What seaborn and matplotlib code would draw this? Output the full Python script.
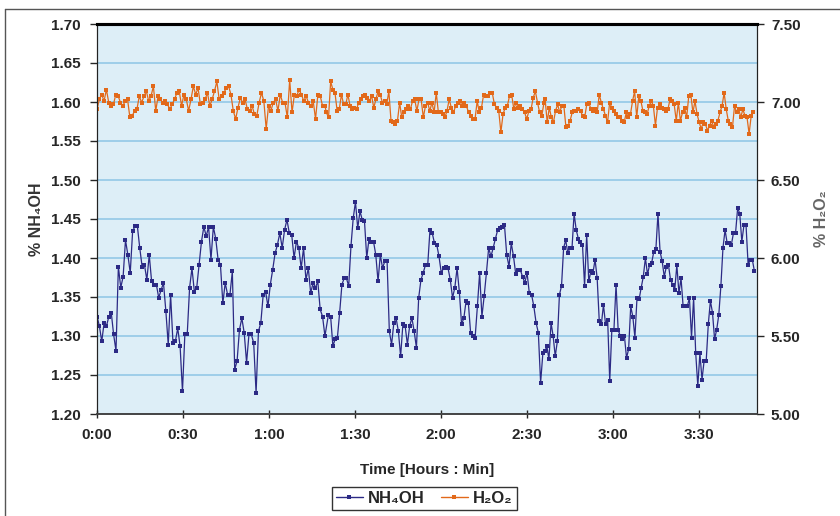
import numpy as np
import pandas as pd
import seaborn as sns
import matplotlib.pyplot as plt
from matplotlib.lines import Line2D

# % NH4OH (left axis), in three stretches of the run
nh4oh_a = [
    1.325, 1.313, 1.293, 1.317, 1.313, 1.325, 1.330, 1.302, 1.281, 1.389, 1.362, 1.376, 1.423, 1.404, 1.381,
    1.434, 1.441, 1.441, 1.413, 1.389, 1.391, 1.372, 1.404, 1.370, 1.366, 1.366, 1.349, 1.359, 1.368, 1.332,
    1.289, 1.353, 1.291, 1.293, 1.310, 1.287, 1.229, 1.302, 1.302, 1.362, 1.387, 1.357, 1.362, 1.391, 1.421,
    1.440, 1.428, 1.440, 1.398, 1.440, 1.425, 1.398, 1.391, 1.342, 1.368, 1.353, 1.353, 1.383, 1.257, 1.268,
    1.308, 1.323, 1.304, 1.266, 1.302, 1.302, 1.291, 1.227, 1.306, 1.317, 1.353, 1.357, 1.338, 1.366, 1.385,
    1.406, 1.417, 1.432, 1.413, 1.436, 1.449, 1.432, 1.430, 1.400, 1.421, 1.413, 1.387, 1.413, 1.372, 1.387,
    1.355, 1.368, 1.362, 1.370, 1.334, 1.325, 1.300,
]
nh4oh_b = [
    1.327, 1.325, 1.287, 1.296, 1.298, 1.330, 1.366, 1.374, 1.374, 1.364, 1.415, 1.451, 1.472, 1.438, 1.460,
    1.449, 1.447, 1.400, 1.425, 1.421, 1.421, 1.404, 1.370, 1.404, 1.387, 1.396, 1.396, 1.306, 1.289, 1.317,
    1.323, 1.306, 1.274, 1.315, 1.313, 1.289, 1.313, 1.323, 1.306, 1.285, 1.349, 1.372, 1.381, 1.391, 1.391,
    1.436, 1.432, 1.419, 1.417, 1.402, 1.381, 1.387, 1.389, 1.387, 1.372, 1.349, 1.362, 1.387, 1.357, 1.315,
    1.323, 1.345, 1.342, 1.304, 1.300, 1.298, 1.338, 1.381, 1.325, 1.351, 1.381, 1.413, 1.402, 1.413, 1.425,
    1.436, 1.438, 1.440, 1.442, 1.404, 1.389, 1.419, 1.402, 1.379, 1.385, 1.385, 1.376, 1.368, 1.381, 1.355,
    1.353, 1.338, 1.317, 1.304, 1.240, 1.278, 1.281,
]
nh4oh_c = [
    1.287, 1.270, 1.317, 1.300, 1.274, 1.293, 1.353, 1.364, 1.413, 1.423, 1.406, 1.413, 1.413, 1.457, 1.436,
    1.425, 1.421, 1.417, 1.364, 1.430, 1.370, 1.383, 1.381, 1.398, 1.374, 1.319, 1.315, 1.340, 1.315, 1.321,
    1.242, 1.308, 1.308, 1.366, 1.308, 1.300, 1.296, 1.300, 1.272, 1.283, 1.338, 1.325, 1.298, 1.349, 1.347,
    1.362, 1.376, 1.400, 1.379, 1.391, 1.394, 1.408, 1.411, 1.457, 1.408, 1.396, 1.376, 1.389, 1.391, 1.372,
    1.366, 1.359, 1.391, 1.355, 1.374, 1.338, 1.338, 1.338, 1.349, 1.298, 1.349, 1.278, 1.236, 1.278, 1.244,
    1.268, 1.268, 1.315, 1.345, 1.330, 1.296, 1.308, 1.327, 1.364, 1.413, 1.436, 1.419, 1.419, 1.417, 1.432,
    1.432, 1.464, 1.457, 1.421, 1.442, 1.442, 1.391, 1.398, 1.398, 1.383,
]
# first and last minute of each stretch
nh4oh_spans = [(0.0, 79.5), (80.7, 156.3), (156.9, 229.3)]

# % H2O2 (right axis)
h2o2_a = [
    6.954, 7.017, 7.048, 7.006, 7.080, 6.996, 6.975, 6.985, 7.048, 7.038, 6.996, 6.975, 7.006, 7.017, 6.901,
    6.912, 6.943, 6.954, 7.038, 6.996, 7.038, 7.069, 7.006, 7.038, 7.101, 6.943, 7.038, 7.017, 6.996, 7.006,
    6.985, 6.954, 6.985, 7.017, 7.059, 7.069, 6.975, 7.048, 7.017, 6.943, 7.017, 7.101, 7.048, 7.090, 6.985,
    6.996, 7.017, 7.059, 6.975, 7.017, 7.069, 7.132, 7.017, 7.038, 7.059, 7.090, 7.101, 7.048, 6.943, 6.891,
    6.964, 7.027, 6.996, 7.017, 6.954, 6.943, 6.975, 6.922, 6.912, 6.996, 7.059, 7.006, 6.828, 6.975, 6.943,
    6.996, 7.017, 6.943, 7.048, 6.996, 6.996, 6.901, 7.143, 6.933, 7.048, 7.038, 7.080, 7.048, 7.006, 7.038,
    6.996, 6.975, 7.006, 6.891, 7.048, 7.038, 6.975, 6.975,
]
h2o2_b = [
    6.933, 6.901, 7.132, 7.080, 7.059, 6.943, 6.954, 7.048, 6.985, 6.985, 7.048, 6.975, 6.954, 6.964, 6.954,
    6.996, 7.017, 7.038, 7.048, 7.027, 7.006, 7.038, 6.964, 7.017, 7.069, 7.048, 6.996, 7.006, 6.985, 7.069,
    6.880, 6.870, 6.859, 6.880, 6.996, 6.901, 6.933, 6.954, 6.975, 6.954, 7.006, 7.017, 6.943, 7.017, 7.017,
    6.901, 6.975, 6.996, 6.943, 6.996, 6.933, 7.059, 6.933, 6.933, 6.922, 6.901, 6.943, 7.017, 6.964, 6.933,
    6.975, 6.996, 7.006, 6.975, 6.996, 6.975, 6.933, 6.912, 6.891, 6.891, 7.006, 6.933, 6.964, 7.048, 7.038,
    7.038, 7.059, 7.059, 6.985, 6.964, 6.943, 6.807, 6.922, 6.964, 6.975, 7.038, 7.048, 6.954, 6.996, 6.964,
    6.975, 6.954, 6.933, 6.891, 6.943, 6.954, 7.027, 7.069, 6.996, 6.933, 6.912, 6.996,
]
h2o2_c = [
    7.017, 6.870, 6.964, 6.901, 6.870, 6.943, 6.985, 6.933, 6.975, 6.975, 6.838, 6.849, 6.880, 6.933, 6.943,
    6.943, 6.954, 6.943, 6.912, 6.901, 6.985, 6.996, 6.954, 6.943, 6.954, 6.933, 7.048, 6.996, 6.954, 6.912,
    6.870, 6.996, 6.964, 6.943, 6.922, 6.901, 6.901, 6.880, 6.870, 6.933, 6.901, 6.922, 7.006, 7.069, 6.901,
    7.038, 7.006, 6.943, 6.933, 6.922, 6.975, 7.006, 6.975, 6.849, 6.964, 6.985, 6.964, 6.954, 6.943, 6.954,
    7.017, 7.006, 6.985, 6.880, 6.996, 6.880, 6.933, 6.964, 6.901, 7.038, 7.048, 6.933, 7.006, 6.922, 6.870,
    6.828, 6.870, 6.859, 6.817, 6.849, 6.880, 6.838, 6.859, 6.880, 6.933, 6.975, 7.059, 6.954, 6.880, 6.859,
    6.838, 6.975, 6.933, 6.954, 6.901, 6.954, 6.912, 6.901, 6.796, 6.912, 6.933,
]
h2o2_spans = [(0.0, 79.5), (80.0, 155.9), (156.3, 228.9)]

time_ticks = [0, 30, 60, 90, 120, 150, 180, 210]
time_labels = ["0:00", "0:30", "1:00", "1:30", "2:00", "2:30", "3:00", "3:30"]


def build(parts, spans):
    # samples are evenly spaced inside each stretch
    frames = []
    for vals, (t0, t1) in zip(parts, spans):
        frames.append(pd.DataFrame({'minutes': np.linspace(t0, t1, len(vals)), 'value': vals}))
    return pd.concat(frames, ignore_index=True)


df_nh = build([nh4oh_a, nh4oh_b, nh4oh_c], nh4oh_spans)
df_h2 = build([h2o2_a, h2o2_b, h2o2_c], h2o2_spans)

NAVY = '#2C2A85'
ORANGE = '#E2691A'

sns.set_style("white")
plt.rcParams['font.family'] = ['Liberation Sans', 'DejaVu Sans']

fig = plt.figure(figsize=(8.4, 5.16), dpi=100)
ax = fig.add_axes([97 / 840, 1 - 414 / 516, 660 / 840, 390 / 516])
ax2 = ax.twinx()

ax.set_facecolor('#DDEEF7')
ax.set_axisbelow(True)

sns.lineplot(data=df_nh, x='minutes', y='value', ax=ax, color=NAVY, linewidth=0.9,
             marker='s', markersize=3.2, markeredgewidth=0, legend=False)
sns.lineplot(data=df_h2, x='minutes', y='value', ax=ax2, color=ORANGE, linewidth=0.9,
             marker='s', markersize=3.2, markeredgewidth=0, legend=False)

# left axis
ax.set_xlim(0, 230.2)
ax.set_ylim(1.20, 1.70)
ax.set_yticks(np.arange(1.20, 1.701, 0.05))
ax.set_yticklabels([f"{v:.2f}" for v in np.arange(1.20, 1.701, 0.05)])
ax.yaxis.grid(True, color='#8DC5E6', linewidth=1.1)
ax.xaxis.grid(False)
ax.set_xticks(time_ticks)
ax.set_xticklabels(time_labels)
ax.tick_params(axis='y', direction='out', length=5, width=1, pad=7, labelsize=11, left=True)
ax.tick_params(axis='x', direction='inout', length=6, width=1, pad=7, labelsize=11, bottom=True)
for lbl in ax.get_xticklabels() + ax.get_yticklabels():
    lbl.set_fontweight('bold')

ax.set_xlabel("Time [Hours : Min]", fontsize=11, fontweight='bold', labelpad=15)
ax.set_ylabel("% NH₄OH", fontsize=11.5, fontweight='bold', color='#333333')
ax.yaxis.set_label_coords(-0.080, 0.5)

# right axis
ax2.set_ylim(5.00, 7.50)
ax2.set_yticks(np.arange(5.0, 7.51, 0.5))
ax2.set_yticklabels([f"{v:.2f}" for v in np.arange(5.0, 7.51, 0.5)])
ax2.tick_params(axis='y', direction='out', length=5, width=1, pad=5, labelsize=11, right=True)
for lbl in ax2.get_yticklabels():
    lbl.set_fontweight('bold')
ax2.set_ylabel("% H₂O₂", fontsize=11.5, fontweight='bold', color='#666666')
ax2.yaxis.set_label_coords(1.086, 0.5)

for a in (ax, ax2):
    a.spines['left'].set_color('#222222')
    a.spines['right'].set_color('#222222')
    a.spines['bottom'].set_color('#444444')
    a.spines['bottom'].set_linewidth(1.2)
    a.spines['top'].set_color('black')
    a.spines['top'].set_linewidth(2.2)

# legend below the axis title
handles = [
    Line2D([], [], color=NAVY, linewidth=1, marker='s', markersize=3.2, markeredgewidth=0),
    Line2D([], [], color=ORANGE, linewidth=1, marker='s', markersize=3.2, markeredgewidth=0),
]
leg = fig.legend(handles, ["NH₄OH", "H₂O₂"], loc='center', bbox_to_anchor=(0.505, 0.034), ncol=2,
                 frameon=True, fancybox=False, edgecolor='black', handlelength=1.6, handletextpad=0.3,
                 columnspacing=1.0, borderpad=0.25, prop={'size': 12, 'weight': 'bold'})
leg.get_frame().set_linewidth(1.0)

# outer chart border
fig.add_artist(Line2D([5 / 840, 5 / 840], [0, 1 - 9 / 516], transform=fig.transFigure, color='#555555', linewidth=1))
fig.add_artist(Line2D([5 / 840, 1], [1 - 9 / 516, 1 - 9 / 516], transform=fig.transFigure, color='#555555', linewidth=1))

fig.savefig('out.png', dpi=100)
